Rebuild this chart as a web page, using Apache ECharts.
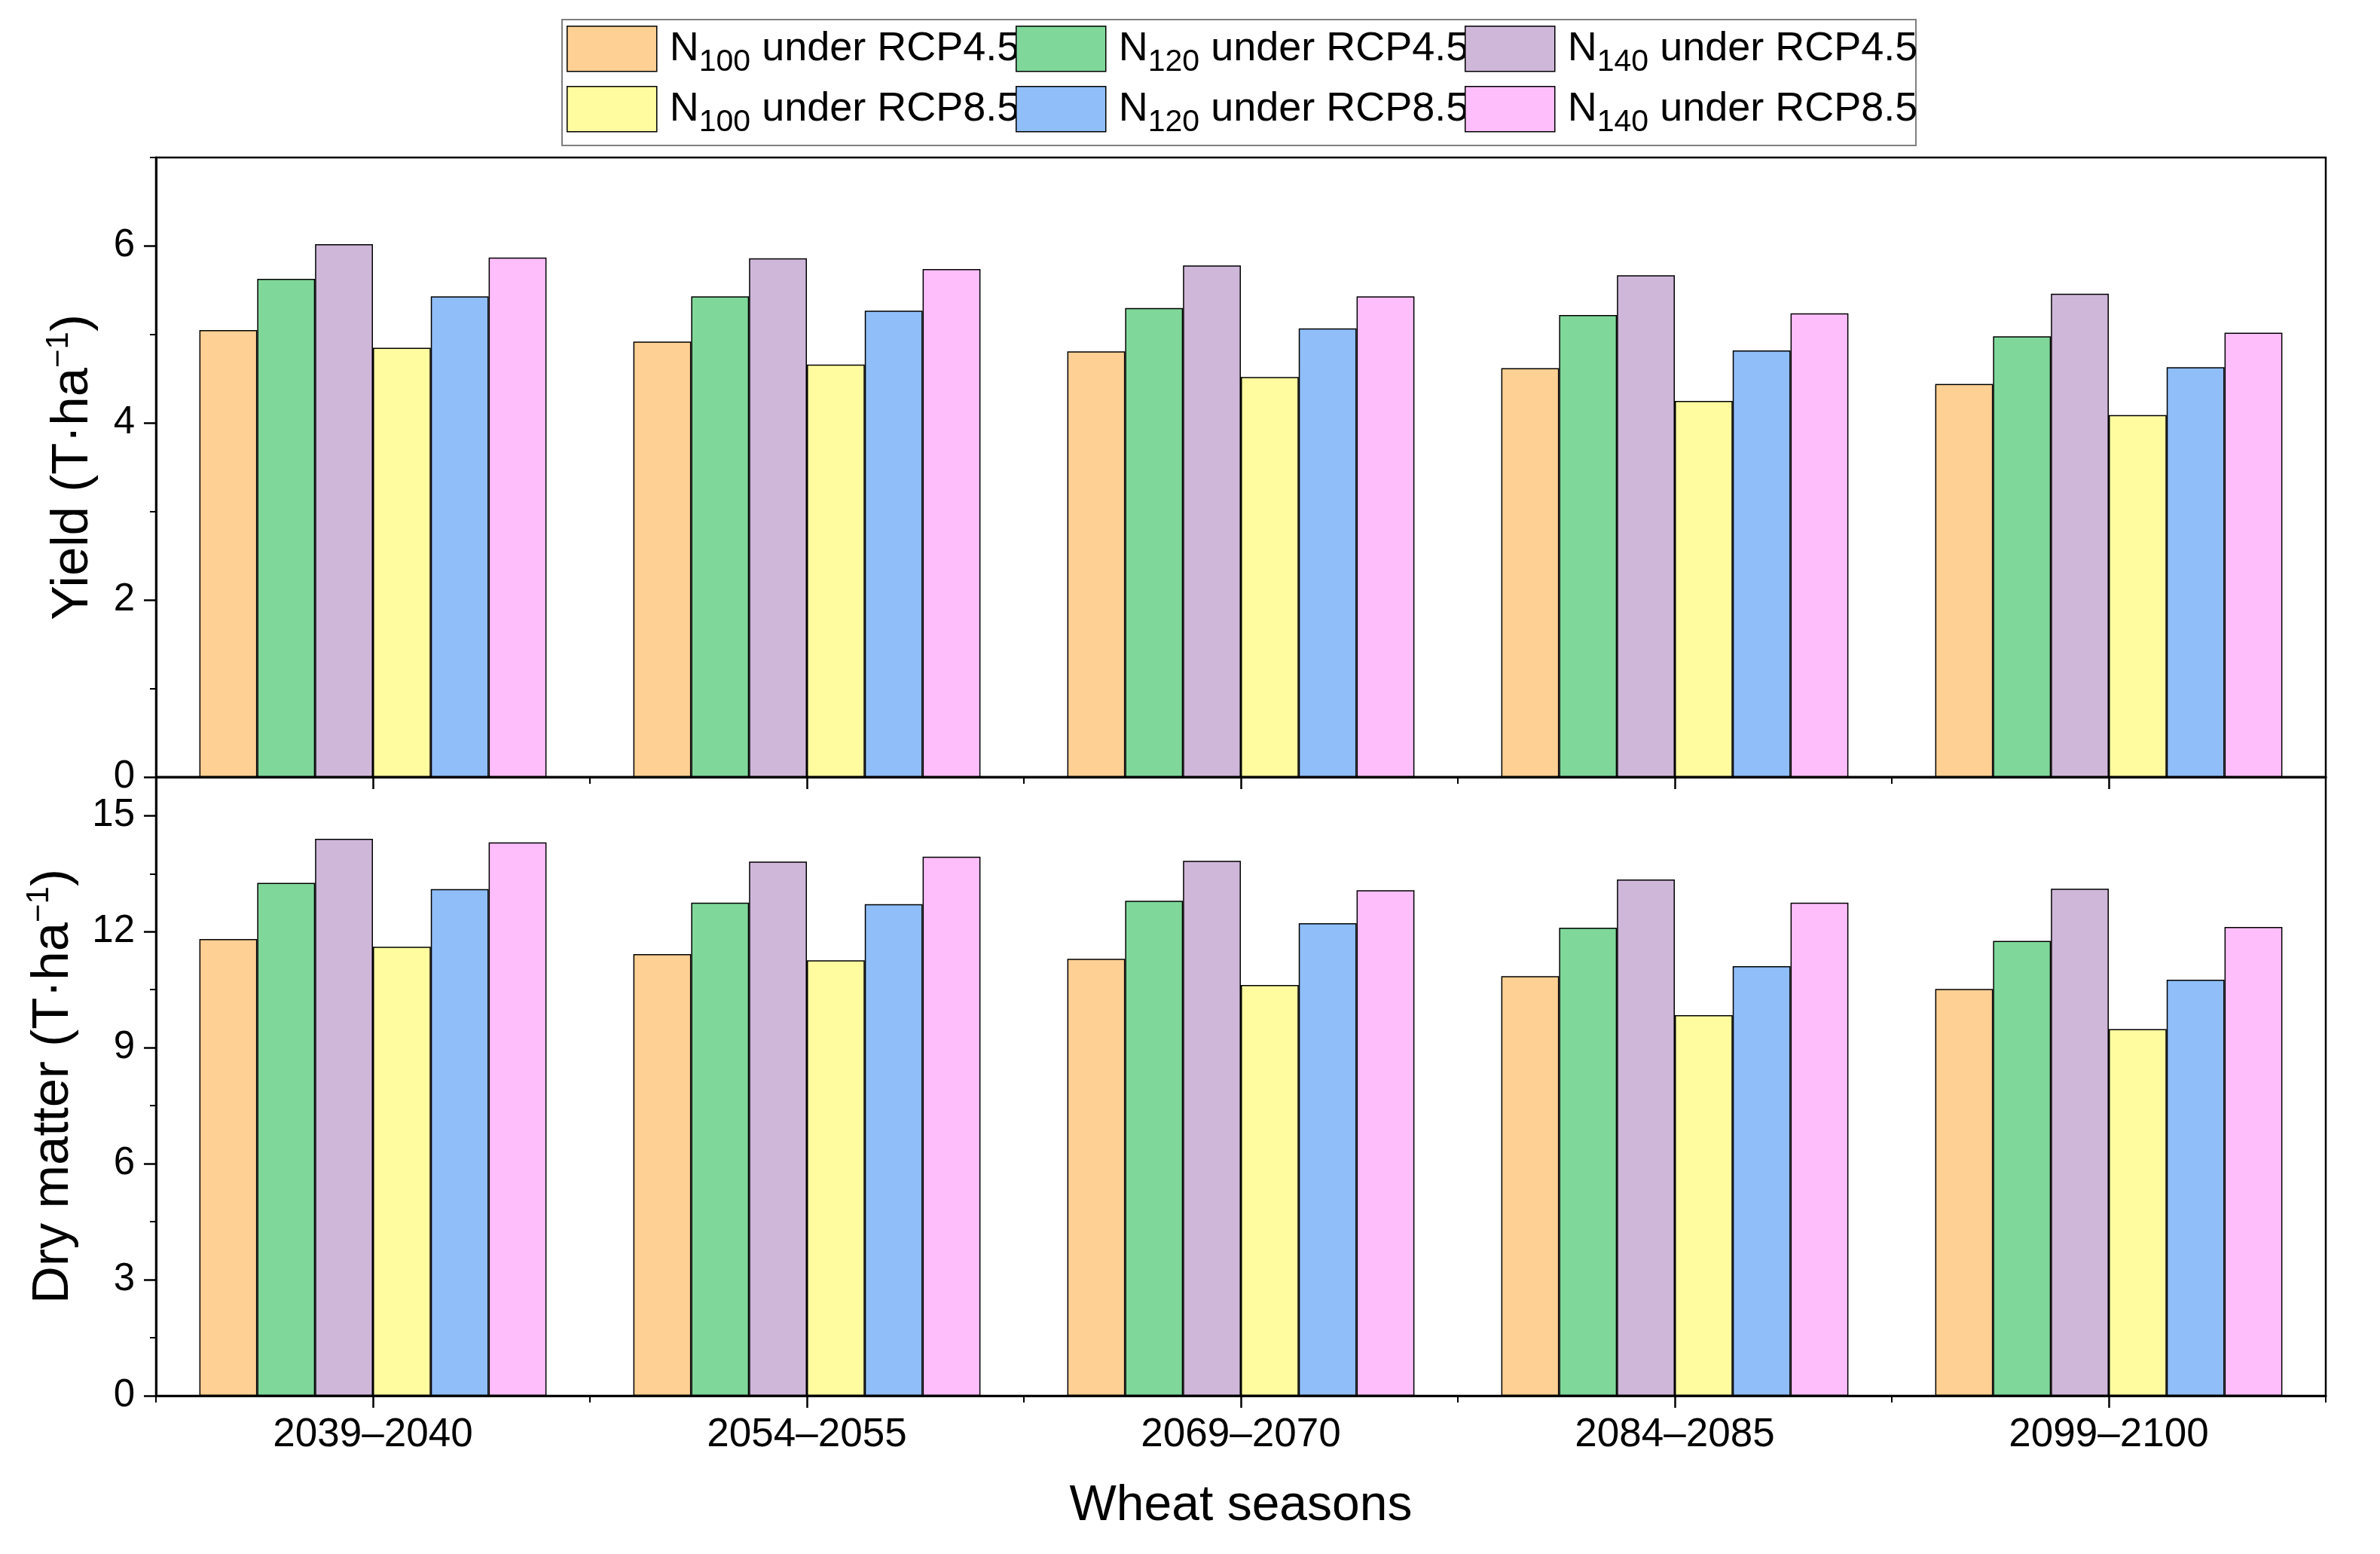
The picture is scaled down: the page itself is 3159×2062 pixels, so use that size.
<!DOCTYPE html>
<html><head><meta charset="utf-8">
<script src="https://cdn.jsdelivr.net/npm/echarts@6/dist/echarts.min.js"></script>
<style>html,body{margin:0;padding:0;background:#fff}#c{width:3159px;height:2062px}</style>
</head><body><div id="c"></div>
<script>
const categories = ['2039–2040','2054–2055','2069–2070','2084–2085','2099–2100'];
const seriesNames = ['N100 under RCP4.5','N120 under RCP4.5','N140 under RCP4.5','N100 under RCP8.5','N120 under RCP8.5','N140 under RCP8.5'];
const colors = ['#FFD093','#7FD89A','#CFB7DA','#FFFCA0','#8FBEF9','#FEBEFB'];

// Yield (T·ha-1)
const yieldN100_45 = [5.05, 4.92, 4.81, 4.62, 4.44];
const yieldN120_45 = [5.63, 5.43, 5.30, 5.22, 4.98];
const yieldN140_45 = [6.02, 5.86, 5.78, 5.67, 5.46];
const yieldN100_85 = [4.85, 4.66, 4.52, 4.25, 4.09];
const yieldN120_85 = [5.43, 5.27, 5.07, 4.82, 4.63];
const yieldN140_85 = [5.87, 5.74, 5.43, 5.24, 5.02];

// Dry matter (T·ha-1)
const dmN100_45 = [11.81, 11.42, 11.30, 10.85, 10.52];
const dmN120_45 = [13.26, 12.75, 12.80, 12.10, 11.76];
const dmN140_45 = [14.40, 13.81, 13.83, 13.35, 13.11];
const dmN100_85 = [11.61, 11.26, 10.62, 9.84, 9.48];
const dmN120_85 = [13.10, 12.71, 12.22, 11.11, 10.76];
const dmN140_85 = [14.31, 13.94, 13.07, 12.75, 12.12];

const yieldTicks = [0, 2, 4, 6];
const yieldMinorTicks = [1, 3, 5, 7];
const dmTicks = [0, 3, 6, 9, 12, 15];
const dmMinorTicks = [1.5, 4.5, 7.5, 10.5, 13.5];

const yieldData = [yieldN100_45, yieldN120_45, yieldN140_45, yieldN100_85, yieldN120_85, yieldN140_85];
const dmData = [dmN100_45, dmN120_45, dmN140_45, dmN100_85, dmN120_85, dmN140_85];

const FONT = 'Liberation Sans, Arial, sans-serif';
const chart = echarts.init(document.getElementById('c'), null, {renderer: 'canvas'});

const topRect = {left: 207, right: 72, top: 209, height: 822};
const botRect = {left: 207, right: 72, top: 1031, height: 821};

function gridOf(r, show) {
  return Object.assign({}, r, {show: show, borderColor: '#000', borderWidth: show ? 2.5 : 0, backgroundColor: 'transparent', containLabel: false, outerBoundsMode: 'none'});
}

function mainX(gi, labels, name) {
  return {
    type: 'category', gridIndex: gi, data: categories, position: 'bottom',
    axisLine: {show: true, lineStyle: {color: '#000', width: 3}},
    axisTick: {show: true, alignWithLabel: true, inside: false, length: 16, lineStyle: {color: '#000', width: 2.5}},
    axisLabel: {show: labels, color: '#000', fontFamily: FONT, fontSize: 53, margin: 26},
    splitLine: {show: false},
    name: name || '', nameLocation: 'middle', nameGap: 114,
    nameTextStyle: {color: '#000', fontFamily: FONT, fontSize: 66}
  };
}
function minorX(gi) {
  return {
    type: 'category', gridIndex: gi, data: categories, position: 'bottom',
    axisLine: {show: false},
    axisTick: {show: true, alignWithLabel: false, length: 9, lineStyle: {color: '#000', width: 2}},
    axisLabel: {show: false}, splitLine: {show: false}
  };
}
function mainY(gi, max, ticks, nameMain, nameGap) {
  return {
    type: 'value', gridIndex: gi, min: 0, max: max, position: 'left',
    axisLine: {show: true, lineStyle: {color: '#000', width: 3}},
    axisTick: {show: true, customValues: ticks, length: 16, lineStyle: {color: '#000', width: 2.5}},
    axisLabel: {show: true, customValues: ticks, color: '#000', fontFamily: FONT, fontSize: 51, margin: 28},
    splitLine: {show: false},
    name: '{a|' + nameMain + ' (T\u00B7ha}{s|\u22121}{a|)}',
    nameLocation: 'middle', nameRotate: 90, nameGap: nameGap,
    nameTextStyle: {
      color: '#000', fontFamily: FONT, fontSize: 69,
      rich: {
        a: {color: '#000', fontFamily: FONT, fontSize: 69, lineHeight: 80},
        s: {color: '#000', fontFamily: FONT, fontSize: 42, padding: [0, 0, 38, 0]}
      }
    }
  };
}
function minorY(gi, max, ticks) {
  return {
    type: 'value', gridIndex: gi, min: 0, max: max, position: 'left',
    axisLine: {show: false},
    axisTick: {show: true, customValues: ticks, length: 8, lineStyle: {color: '#000', width: 2}},
    axisLabel: {show: false}, splitLine: {show: false}
  };
}

const series = [];
seriesNames.forEach((n, i) => {
  series.push({
    name: n, type: 'bar', xAxisIndex: 0, yAxisIndex: 0, data: yieldData[i],
    barGap: '0%', barCategoryGap: '20%',
    itemStyle: {color: colors[i], borderColor: '#000', borderWidth: 1.5},
    emphasis: {disabled: true}
  });
});
seriesNames.forEach((n, i) => {
  series.push({
    name: n, type: 'bar', xAxisIndex: 2, yAxisIndex: 2, data: dmData[i],
    barGap: '0%', barCategoryGap: '20%',
    itemStyle: {color: colors[i], borderColor: '#000', borderWidth: 1.5},
    emphasis: {disabled: true}
  });
});

const legendCols = [752, 1348, 1944];
const legendRows = [34, 114];
const legends = seriesNames.map((n, i) => ({
  data: [n],
  left: legendCols[i % 3], top: legendRows[Math.floor(i / 3)],
  orient: 'horizontal', itemWidth: 119, itemHeight: 60, padding: 0,
  icon: 'rect', selectedMode: false,
  itemStyle: {borderColor: '#000', borderWidth: 1.5},
  formatter: function (name) {
    const m = name.match(/^N(\d+)(.*)$/);
    return '{g|N}{s|' + m[1] + '}{a|' + m[2] + '}';
  },
  textStyle: {
    color: '#000', fontFamily: FONT, fontSize: 54,
    rich: {
      g: {color: '#000', fontFamily: FONT, fontSize: 54, lineHeight: 64, padding: [0, 0, 0, 12]},
      a: {color: '#000', fontFamily: FONT, fontSize: 54, lineHeight: 64},
      s: {color: '#000', fontFamily: FONT, fontSize: 41, padding: [36, 0, 0, 0]}
    }
  }
}));

chart.setOption({
  animation: false,
  backgroundColor: '#fff',
  grid: [gridOf(topRect, true), gridOf(topRect, false), gridOf(botRect, true), gridOf(botRect, false)],
  xAxis: [mainX(0, false), minorX(1), mainX(2, true, 'Wheat seasons'), minorX(3)],
  yAxis: [mainY(0, 7, yieldTicks, 'Yield', 70), minorY(1, 7, yieldMinorTicks), mainY(2, 16, dmTicks, 'Dry matter', 96), minorY(3, 16, dmMinorTicks)],
  legend: legends,
  graphic: [{
    type: 'rect', shape: {x: 746, y: 26, width: 1797, height: 167},
    style: {fill: 'none', stroke: '#7f7f7f', lineWidth: 2}, silent: true, z: 0
  }],
  series: series
});
</script></body></html>
